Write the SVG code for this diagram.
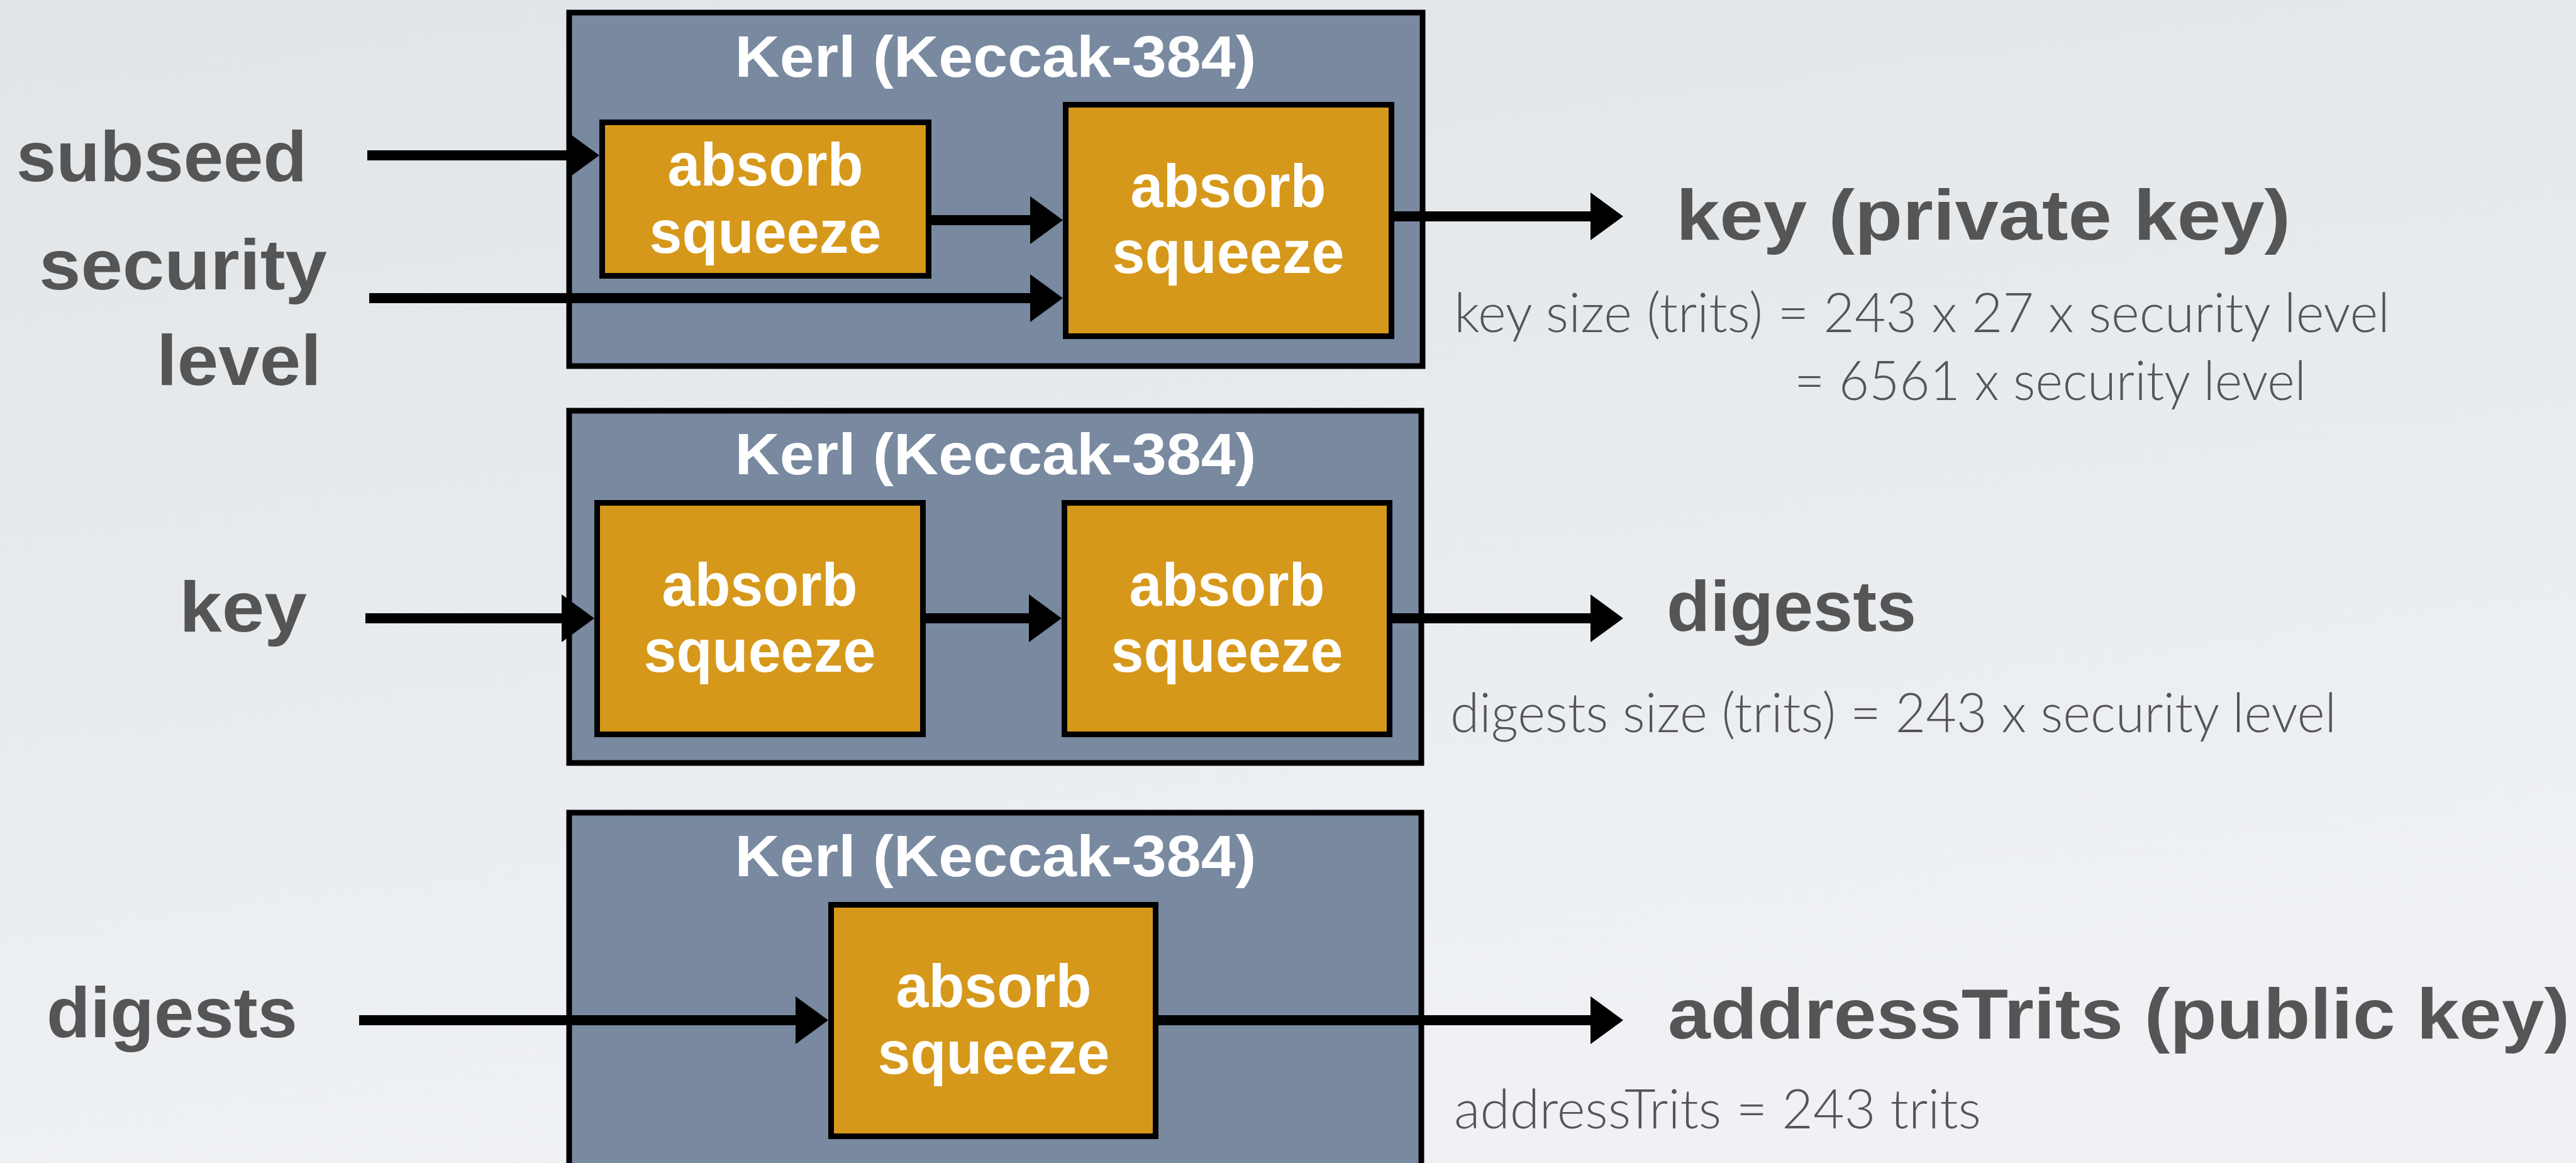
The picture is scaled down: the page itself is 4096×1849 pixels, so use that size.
<svg xmlns="http://www.w3.org/2000/svg" width="4096" height="1849" viewBox="0 0 4096 1849">
  <defs>
    <linearGradient id="bg" x1="0" y1="0" x2="0.3" y2="1">
      <stop offset="0" stop-color="#e1e5e8"/>
      <stop offset="1" stop-color="#eff1f4"/>
    </linearGradient>
    <marker id="head" markerUnits="userSpaceOnUse" markerWidth="52" markerHeight="76" refX="12" refY="38" orient="auto" overflow="visible">
      <path d="M0,0 L52,38 L0,76 Z" fill="#000"/>
    </marker>
    <style>
      .kerl { fill: #7889a0; stroke: #000; stroke-width: 9; }
      .step { fill: #d6981a; stroke: #000; stroke-width: 9; }
      .title { font-family: "Liberation Sans", Arial, sans-serif; font-weight: bold; font-size: 92px; fill: #fff; text-anchor: middle; }
      .op { font-family: "Liberation Sans", Arial, sans-serif; font-weight: bold; font-size: 96px; fill: #fff; text-anchor: middle; }
      .label { font-family: "Liberation Sans", Arial, sans-serif; font-weight: bold; font-size: 114px; fill: #555; }
      .note { font-family: Lato, "Open Sans", "Liberation Sans", sans-serif; font-weight: 300; font-size: 86px; fill: #555; }
      .wire { stroke: #000; stroke-width: 16; fill: none; marker-end: url(#head); }
    </style>
  </defs>

  <rect width="4096" height="1849" fill="url(#bg)"/>

  <!-- Stage 1: subseed + security level -> key -->
  <g id="kerl-key">
    <rect class="kerl" x="905" y="20" width="1357" height="562"/>
    <text class="title" x="1583" y="122" textLength="829" lengthAdjust="spacingAndGlyphs">Kerl (Keccak-384)</text>
  </g>
  <g id="kerl-key-step1">
    <rect class="step" x="957.5" y="194.5" width="519" height="244"/>
    <text class="op" x="1217" y="295" textLength="311" lengthAdjust="spacingAndGlyphs">absorb</text>
    <text class="op" x="1217" y="402" textLength="369" lengthAdjust="spacingAndGlyphs">squeeze</text>
  </g>
  <g id="kerl-key-step2">
    <rect class="step" x="1694.5" y="166.5" width="518" height="368"/>
    <text class="op" x="1953" y="329" textLength="311" lengthAdjust="spacingAndGlyphs">absorb</text>
    <text class="op" x="1953" y="434" textLength="369" lengthAdjust="spacingAndGlyphs">squeeze</text>
  </g>

  <!-- Stage 2: key -> digests -->
  <g id="kerl-digests">
    <rect class="kerl" x="905" y="653" width="1355" height="560"/>
    <text class="title" x="1583" y="754" textLength="829" lengthAdjust="spacingAndGlyphs">Kerl (Keccak-384)</text>
  </g>
  <g id="kerl-digests-step1">
    <rect class="step" x="949.5" y="799.5" width="518" height="368"/>
    <text class="op" x="1208" y="963" textLength="311" lengthAdjust="spacingAndGlyphs">absorb</text>
    <text class="op" x="1208" y="1068" textLength="369" lengthAdjust="spacingAndGlyphs">squeeze</text>
  </g>
  <g id="kerl-digests-step2">
    <rect class="step" x="1692.5" y="799.5" width="517" height="368"/>
    <text class="op" x="1951" y="963" textLength="311" lengthAdjust="spacingAndGlyphs">absorb</text>
    <text class="op" x="1951" y="1068" textLength="369" lengthAdjust="spacingAndGlyphs">squeeze</text>
  </g>

  <!-- Stage 3: digests -> addressTrits -->
  <g id="kerl-address">
    <rect class="kerl" x="905" y="1292" width="1355" height="700"/>
    <text class="title" x="1583" y="1393" textLength="829" lengthAdjust="spacingAndGlyphs">Kerl (Keccak-384)</text>
  </g>
  <g id="kerl-address-step">
    <rect class="step" x="1321.5" y="1438.5" width="516" height="368"/>
    <text class="op" x="1580" y="1601" textLength="311" lengthAdjust="spacingAndGlyphs">absorb</text>
    <text class="op" x="1580" y="1707" textLength="369" lengthAdjust="spacingAndGlyphs">squeeze</text>
  </g>

  <!-- Inputs -->
  <g id="in-subseed"><text class="label" x="26" y="288" textLength="462" lengthAdjust="spacingAndGlyphs">subseed</text></g>
  <g id="in-security">
    <text class="label" x="62" y="460" textLength="458" lengthAdjust="spacingAndGlyphs">security</text>
    <text class="label" x="249" y="612" textLength="262" lengthAdjust="spacingAndGlyphs">level</text>
  </g>
  <g id="in-key"><text class="label" x="285" y="1004" textLength="203" lengthAdjust="spacingAndGlyphs">key</text></g>
  <g id="in-digests"><text class="label" x="74" y="1649" textLength="399" lengthAdjust="spacingAndGlyphs">digests</text></g>

  <!-- Outputs -->
  <g id="out-key">
    <text class="label" x="2665" y="381" textLength="977" lengthAdjust="spacingAndGlyphs">key (private key)</text>
    <text class="note" x="2312" y="528" textLength="1488" lengthAdjust="spacingAndGlyphs">key size (trits) = 243 x 27 x security level</text>
    <text class="note" x="2853" y="636" textLength="814" lengthAdjust="spacingAndGlyphs">= 6561 x security level</text>
  </g>
  <g id="out-digests">
    <text class="label" x="2650" y="1003" textLength="397" lengthAdjust="spacingAndGlyphs">digests</text>
    <text class="note" x="2306" y="1164" textLength="1409" lengthAdjust="spacingAndGlyphs">digests size (trits) = 243 x security level</text>
  </g>
  <g id="out-address">
    <text class="label" x="2652" y="1651" textLength="1434" lengthAdjust="spacingAndGlyphs">addressTrits (public key)</text>
    <text class="note" x="2312" y="1794" textLength="838" lengthAdjust="spacingAndGlyphs">addressTrits = 243 trits</text>
  </g>

  <!-- Connectors: each line stops 40px short of its arrow tip -->
  <g id="connectors">
    <line class="wire" x1="584" y1="247" x2="913" y2="247"/>
    <line class="wire" x1="1481" y1="350" x2="1650" y2="350"/>
    <line class="wire" x1="587" y1="474" x2="1650" y2="474"/>
    <line class="wire" x1="2217" y1="344" x2="2541" y2="344"/>

    <line class="wire" x1="581" y1="983" x2="905" y2="983"/>
    <line class="wire" x1="1472" y1="983" x2="1648" y2="983"/>
    <line class="wire" x1="2214" y1="983" x2="2541" y2="983"/>

    <line class="wire" x1="571" y1="1622" x2="1277" y2="1622"/>
    <line class="wire" x1="1842" y1="1622" x2="2541" y2="1622"/>
  </g>
</svg>
